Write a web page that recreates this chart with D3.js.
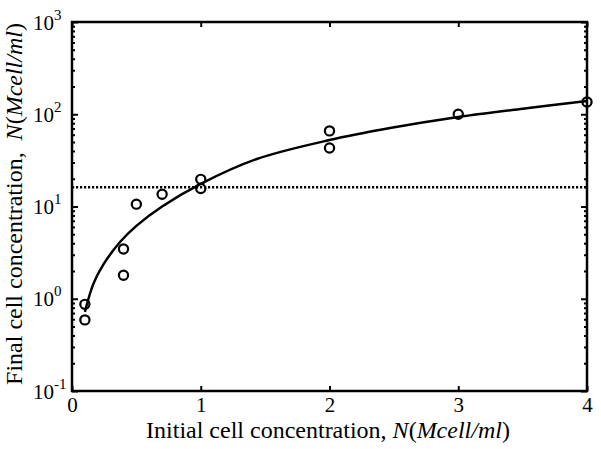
<!DOCTYPE html>
<html>
<head>
<meta charset="utf-8">
<script src="https://cdn.jsdelivr.net/npm/d3@7"></script>
<style>
  html, body { margin: 0; padding: 0; background: #fff; }
  svg { display: block; }
  text { font-family: "Liberation Serif", "Times New Roman", serif; fill: #000; }
</style>
</head>
<body>
<svg id="chart" width="601" height="449"></svg>
<script>
// ---- data ----
const initialConc = [0.1, 0.1, 0.4, 0.4, 0.5, 0.7, 1, 1, 2, 2, 3, 4];
const finalConc   = [0.87, 0.59, 3.46, 1.80, 10.6, 13.6, 19.7, 15.7, 66, 43, 100, 136];

const fitX = [0.1, 0.166, 0.243, 0.373, 0.5, 0.7, 1.0, 1.435, 2.0, 2.47, 3.0, 3.5, 4.0];
const fitY = [0.72, 1.45, 2.34, 4.12, 6.17, 10.0, 17.6, 32.7, 52.5, 70.8, 93.3, 114.8, 139];

const thresholdLevel = [16.2];

const xTicks = [0, 1, 2, 3, 4];
const yTickExps = [-1, 0, 1, 2, 3];

const xLabel = "Initial cell concentration, ";
const yLabel = "Final cell concentration,  ";
const unitLabel = "Mcell/ml";

// ---- layout ----
const svg = d3.select("#chart");
const L = 72, R = 587, T = 22, B = 391;

const x = d3.scaleLinear().domain([0, 4]).range([L, R]);
const y = d3.scaleLog().domain([0.1, 1000]).range([B, T]);

const majorY = yTickExps.map(e => Math.pow(10, e));
const minorY = [];
for (let e = -1; e < 3; e++) for (let k = 2; k <= 9; k++) minorY.push(k * Math.pow(10, e));

const font = "Liberation Serif";

// minor ticks left/right
svg.append("g").attr("transform", `translate(${L},0)`)
  .call(d3.axisLeft(y).tickValues(minorY).tickSize(-3).tickFormat(""))
  .call(g => g.select(".domain").remove())
  .call(g => g.selectAll("line").attr("stroke-width", 2));
svg.append("g").attr("transform", `translate(${R},0)`)
  .call(d3.axisRight(y).tickValues(minorY).tickSize(-3).tickFormat(""))
  .call(g => g.select(".domain").remove())
  .call(g => g.selectAll("line").attr("stroke-width", 2));

// major ticks left with labels
const leftAxis = svg.append("g").attr("transform", `translate(${L},0)`)
  .call(d3.axisLeft(y).tickValues(majorY).tickSize(-6).tickFormat(""))
  .call(g => g.select(".domain").remove())
  .call(g => g.selectAll("line").attr("stroke-width", 2));
leftAxis.selectAll(".tick").each(function(d) {
  const e = Math.round(Math.log10(d));
  const t = d3.select(this).append("text")
    .attr("x", -39).attr("y", 7)
    .attr("text-anchor", "start")
    .style("font-family", font).style("font-size", "21px").attr("fill", "#000");
  t.append("tspan").text("10");
  t.append("tspan").attr("dy", -10).style("font-size", "15px").text(String(e));
});
svg.append("g").attr("transform", `translate(${R},0)`)
  .call(d3.axisRight(y).tickValues(majorY).tickSize(-6).tickFormat(""))
  .call(g => g.select(".domain").remove())
  .call(g => g.selectAll("line").attr("stroke-width", 2));

// x ticks bottom with labels, top without
svg.append("g").attr("transform", `translate(0,${B})`)
  .call(d3.axisBottom(x).tickValues(xTicks).tickSize(-5).tickFormat(d3.format("d")))
  .call(g => g.select(".domain").remove())
  .call(g => g.selectAll("line").attr("stroke-width", 2))
  .call(g => g.selectAll("text").attr("y", 21).attr("dy", null)
    .style("font-family", font).style("font-size", "21px").attr("fill", "#000"));
svg.append("g").attr("transform", `translate(0,${T})`)
  .call(d3.axisTop(x).tickValues(xTicks).tickSize(-5).tickFormat(""))
  .call(g => g.select(".domain").remove())
  .call(g => g.selectAll("line").attr("stroke-width", 2));

// frame
svg.append("rect").attr("x", L).attr("y", T).attr("width", R - L).attr("height", B - T)
  .attr("fill", "none").attr("stroke", "#000").attr("stroke-width", 2.5);

// threshold dotted line
svg.selectAll(".thr").data(thresholdLevel).enter().append("line")
  .attr("x1", x(0)).attr("x2", x(4))
  .attr("y1", d => y(d)).attr("y2", d => y(d))
  .attr("stroke", "#000").attr("stroke-width", 2.5).attr("stroke-dasharray", "2.2,1.8");

// fit curve
const fitData = fitX.map((v, i) => [v, fitY[i]]);
svg.append("path").datum(fitData)
  .attr("d", d3.line().x(d => x(d[0])).y(d => y(d[1])).curve(d3.curveCatmullRom.alpha(0.5)))
  .attr("fill", "none").attr("stroke", "#000").attr("stroke-width", 2.5);

// data points
const pts = initialConc.map((v, i) => [v, finalConc[i]]);
svg.selectAll(".pt").data(pts).enter().append("circle")
  .attr("cx", d => x(d[0])).attr("cy", d => y(d[1])).attr("r", 4.6)
  .attr("fill", "none").attr("stroke", "#000").attr("stroke-width", 2.2);

// x axis title
const xt = svg.append("text").attr("x", 328).attr("y", 438)
  .attr("text-anchor", "middle").style("font-family", font).style("font-size", "24px");
xt.append("tspan").text(xLabel);
xt.append("tspan").style("font-style", "italic").text("N");
xt.append("tspan").text("(");
xt.append("tspan").style("font-style", "italic").text(unitLabel);
xt.append("tspan").text(")");

// y axis title
const yt = svg.append("text").attr("transform", `translate(22,204) rotate(-90)`)
  .attr("text-anchor", "middle").style("font-family", font).style("font-size", "24px")
  .attr("xml:space", "preserve").style("white-space", "pre");
yt.append("tspan").text(yLabel);
yt.append("tspan").style("font-style", "italic").text("N");
yt.append("tspan").text("(");
yt.append("tspan").style("font-style", "italic").text(unitLabel);
yt.append("tspan").text(")");
</script>
</body>
</html>
